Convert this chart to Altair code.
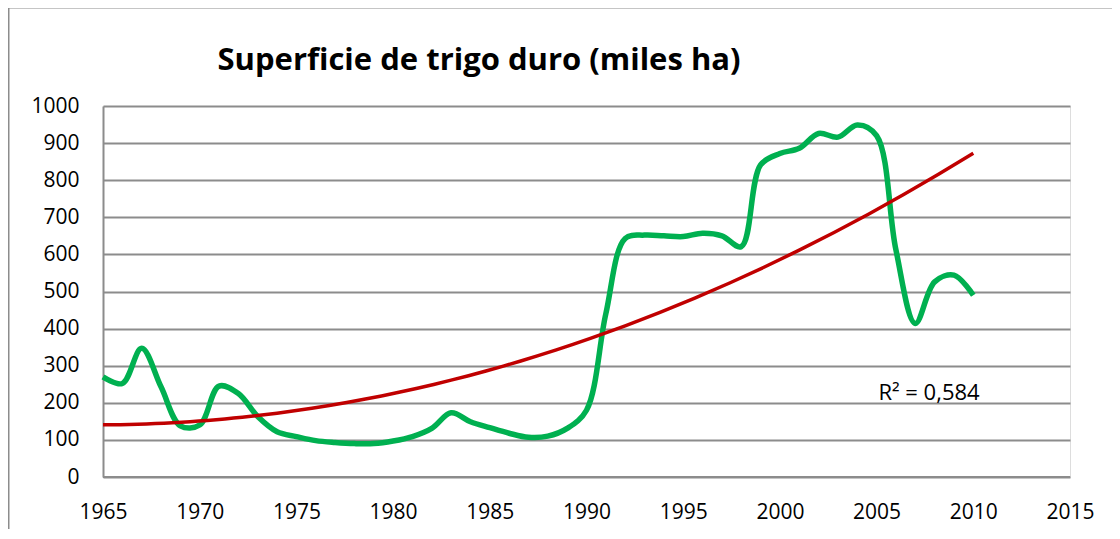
import altair as alt
import pandas as pd

years = list(range(1965, 2011))
values = [270, 252, 347, 243, 138, 140, 245, 225, 163, 122,
          109, 98, 93, 90, 90, 97, 109, 131, 173, 149,
          133, 118, 107, 110, 131, 180, 440, 643, 652, 650,
          648, 657, 650, 621, 841, 872, 886, 926, 916, 949,
          920, 612, 414, 526, 544, 490]
x_ticks = list(range(1965, 2016, 5))
y_ticks = list(range(0, 1001, 100))
title_text = "Superficie de trigo duro (miles ha)"
r2_text = "R² = 0,584"

df = pd.DataFrame({"year": years, "value": values})

W, H = 967, 371
GRID = "#8c8c8c"
FONT = "Open Sans"

x_enc = alt.X("year:Q", scale=alt.Scale(domain=[1965, 2015], nice=False),
              axis=alt.Axis(values=x_ticks, format="d", title=None, grid=False,
                            ticks=False, labelPadding=24, labelFontSize=21,
                            labelFont=FONT, labelColor="#000", domain=False,
                            labelFlush=False, labelOverlap=False))
y_enc = alt.Y("value:Q", scale=alt.Scale(domain=[0, 1000], nice=False),
              axis=alt.Axis(values=y_ticks, tickCount=11, format="d", title=None,
                            grid=True, gridColor=GRID, gridWidth=2, ticks=False,
                            labelPadding=24, labelFontSize=21, labelFont=FONT,
                            labelColor="#000", domainColor=GRID, domainWidth=2,
                            labelFlush=False, labelOverlap=False))

base = alt.Chart(df)

green = base.mark_line(color="#00B050", strokeWidth=5.5,
                       interpolate="catmull-rom").encode(x=x_enc, y=y_enc)

trend = base.transform_regression(
    "year", "value", method="poly", order=2, extent=[1965, 2010]
).mark_line(color="#C00000", strokeWidth=3.5).encode(x="year:Q", y="value:Q")

baseline = alt.Chart(pd.DataFrame({"v": [0]})).mark_rule(
    color=GRID, strokeWidth=2).encode(y="v:Q", x=alt.value(0), x2=alt.value(W))

r2 = alt.Chart(pd.DataFrame({"t": [r2_text]})).mark_text(
    font=FONT, fontSize=22, color="#000", align="center", baseline="alphabetic"
).encode(text="t:N", x=alt.value(826), y=alt.value(294))

title = alt.Chart(pd.DataFrame({"t": [title_text]})).mark_text(
    font=FONT, fontSize=31, fontWeight="bold", color="#000", align="center",
    baseline="alphabetic"
).encode(text="t:N", x=alt.value(376), y=alt.value(-36))

border_left = alt.Chart(pd.DataFrame({"a": [0]})).mark_rule(
    color=GRID, strokeWidth=2).encode(x=alt.value(-94.5), y=alt.value(-98),
                                      y2=alt.value(H + 100))
border_top = alt.Chart(pd.DataFrame({"a": [0]})).mark_rule(
    color=GRID, strokeWidth=2).encode(y=alt.value(-98.5), x=alt.value(-95),
                                      x2=alt.value(W + 60))

chart = alt.layer(green, trend, baseline, r2, title, border_left, border_top).properties(
    width=W, height=H,
    autosize=alt.AutoSizeParams(type="none"),
    padding={"left": 95, "top": 98, "right": 42, "bottom": 52},
).configure_view(stroke=None).configure(background="white")

chart.save("out.html", embed_options={"renderer": "svg", "actions": False})
